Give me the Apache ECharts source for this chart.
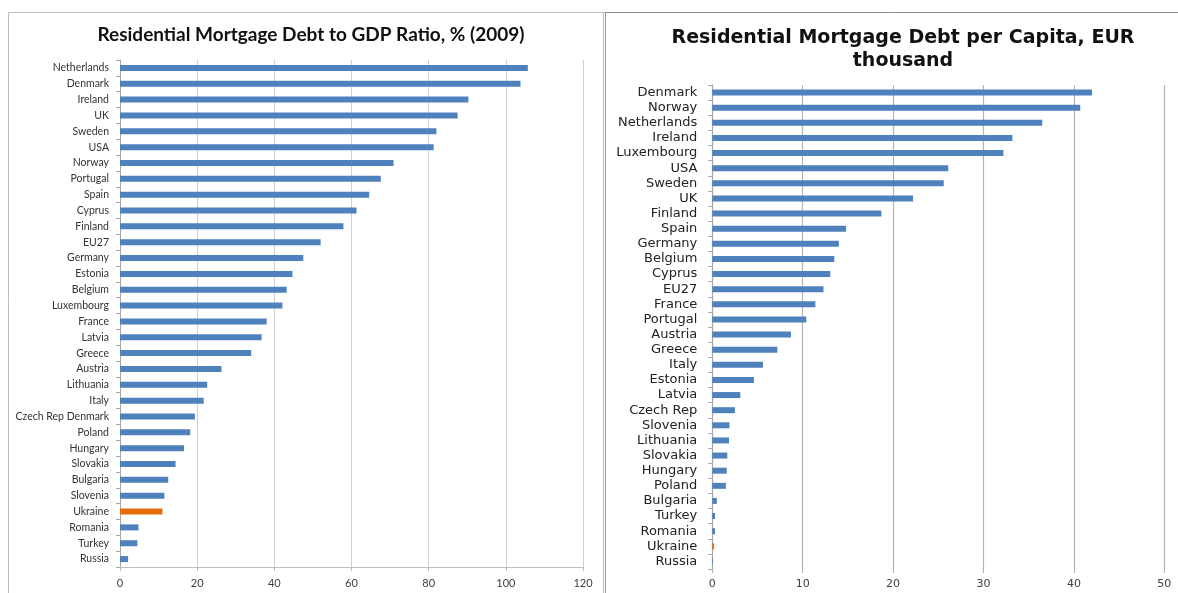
<!DOCTYPE html>
<html>
<head>
<meta charset="utf-8">
<script src="https://cdn.jsdelivr.net/npm/echarts@6/dist/echarts.min.js"></script>
<style>
  html, body { margin: 0; padding: 0; background: #ffffff; }
  #chart { width: 1178px; height: 593px; }
</style>
</head>
<body>
<div id="chart"></div>
<script>
// Mortgage debt to GDP ratio, % (2009), listed top to bottom
const gdpCountries = ['Netherlands', 'Denmark', 'Ireland', 'UK', 'Sweden', 'USA', 'Norway', 'Portugal',
  'Spain', 'Cyprus', 'Finland', 'EU27', 'Germany', 'Estonia', 'Belgium', 'Luxembourg', 'France',
  'Latvia', 'Greece', 'Austria', 'Lithuania', 'Italy', 'Czech Rep Denmark', 'Poland', 'Hungary',
  'Slovakia', 'Bulgaria', 'Slovenia', 'Ukraine', 'Romania', 'Turkey', 'Russia'];
const gdpRatio = [105.7, 103.8, 90.3, 87.5, 82.0, 81.3, 70.9, 67.6,
  64.6, 61.3, 57.9, 52.0, 47.5, 44.7, 43.2, 42.1, 38.0,
  36.7, 34.0, 26.3, 22.6, 21.7, 19.4, 18.2, 16.6,
  14.4, 12.5, 11.5, 11.0, 4.8, 4.5, 2.1];
const gdpTicks = [0, 20, 40, 60, 80, 100, 120];

// Mortgage debt per capita, EUR thousand, listed top to bottom
const capitaCountries = ['Denmark', 'Norway', 'Netherlands', 'Ireland', 'Luxembourg', 'USA', 'Sweden',
  'UK', 'Finland', 'Spain', 'Germany', 'Belgium', 'Cyprus', 'EU27', 'France', 'Portugal', 'Austria',
  'Greece', 'Italy', 'Estonia', 'Latvia', 'Czech Rep', 'Slovenia', 'Lithuania', 'Slovakia', 'Hungary',
  'Poland', 'Bulgaria', 'Turkey', 'Romania', 'Ukraine', 'Russia'];
const perCapita = [42.0, 40.7, 36.5, 33.2, 32.2, 26.1, 25.6,
  22.2, 18.7, 14.8, 14.0, 13.5, 13.05, 12.3, 11.4, 10.4, 8.7,
  7.2, 5.6, 4.6, 3.1, 2.5, 1.9, 1.85, 1.66, 1.6,
  1.5, 0.5, 0.3, 0.3, 0.2, 0.08];
const capitaTicks = [0, 10, 20, 30, 40, 50];

const highlight = 'Ukraine';
const BLUE = '#4f81bd';
const ORANGE = '#e46c0a';

// the category axis runs bottom-up, so feed it reversed lists
function barData(names, values) {
  return values.map((v, i) => ({
    value: v,
    itemStyle: { color: names[i] === highlight ? ORANGE : BLUE }
  })).reverse();
}

const chart = echarts.init(document.getElementById('chart'), null, { renderer: 'canvas' });

const option = {
  backgroundColor: '#ffffff',
  animation: false,
  title: [
    {
      text: 'Residential Mortgage Debt to GDP Ratio, % (2009)',
      left: 306, top: 20, textAlign: 'center',
      textStyle: { fontFamily: 'Lato', fontWeight: 'bold', fontSize: 19, color: '#111111' }
    },
    {
      text: 'Residential Mortgage Debt per Capita, EUR\nthousand',
      left: 898, top: 22, textAlign: 'center',
      textStyle: { fontFamily: 'DejaVu Sans', fontWeight: 'bold', fontSize: 19, lineHeight: 23, color: '#111111', align: 'center' }
    }
  ],
  graphic: [
    { type: 'rect', shape: { x: 8.5, y: 12.5, width: 595, height: 600 }, style: { fill: null, stroke: '#bdbdbd', lineWidth: 1 }, z: -1 },
    { type: 'line', shape: { x1: 604.5, y1: 12.5, x2: 1178, y2: 12.5 }, style: { stroke: '#8a8a8a', lineWidth: 1 } },
    { type: 'line', shape: { x1: 605.5, y1: 12.5, x2: 605.5, y2: 593 }, style: { stroke: '#9a9a9a', lineWidth: 1 } }
  ],
  grid: [
    { left: 120, right: 595, top: 60, bottom: 26 },
    { left: 712.3, right: 13.7, top: 85, bottom: 24 }
  ],
  xAxis: [
    {
      gridIndex: 0, type: 'value', min: gdpTicks[0], max: gdpTicks[gdpTicks.length - 1], interval: 20,
      axisLine: { show: true, lineStyle: { color: '#bfbfbf' } },
      axisTick: { show: true, length: 4, lineStyle: { color: '#bfbfbf' } },
      splitLine: { show: true, lineStyle: { color: '#d0d0d0', width: 1 } },
      axisLabel: { fontFamily: 'Lato', fontSize: 11, color: '#404040', margin: 11 }
    },
    {
      gridIndex: 1, type: 'value', min: capitaTicks[0], max: capitaTicks[capitaTicks.length - 1], interval: 10,
      axisLine: { show: false },
      axisTick: { show: true, length: 4, lineStyle: { color: '#b0b0b0' } },
      splitLine: { show: true, lineStyle: { color: '#b4b4b4', width: 1.2 } },
      axisLabel: { fontFamily: 'DejaVu Sans', fontSize: 11, color: '#404040', margin: 10 }
    }
  ],
  yAxis: [
    {
      gridIndex: 0, type: 'category', data: gdpCountries.slice().reverse(),
      axisLine: { show: true, lineStyle: { color: '#a6a6a6' } },
      axisTick: { show: true, length: 4, alignWithLabel: false, lineStyle: { color: '#a6a6a6' } },
      axisLabel: { fontFamily: 'Lato', fontSize: 10.5, color: '#333333', margin: 11, interval: 0 }
    },
    {
      gridIndex: 1, type: 'category', data: capitaCountries.slice().reverse(),
      axisLine: { show: true, lineStyle: { color: '#a6a6a6' } },
      axisTick: { show: true, length: 4, alignWithLabel: false, lineStyle: { color: '#a6a6a6' } },
      axisLabel: { fontFamily: 'DejaVu Sans', fontSize: 13, color: '#222222', margin: 15, interval: 0 }
    }
  ],
  series: [
    {
      type: 'bar', xAxisIndex: 0, yAxisIndex: 0, barWidth: 6,
      data: barData(gdpCountries, gdpRatio)
    },
    {
      type: 'bar', xAxisIndex: 1, yAxisIndex: 1, barWidth: 6,
      data: barData(capitaCountries, perCapita)
    }
  ]
};

chart.setOption(option);
</script>
</body>
</html>
